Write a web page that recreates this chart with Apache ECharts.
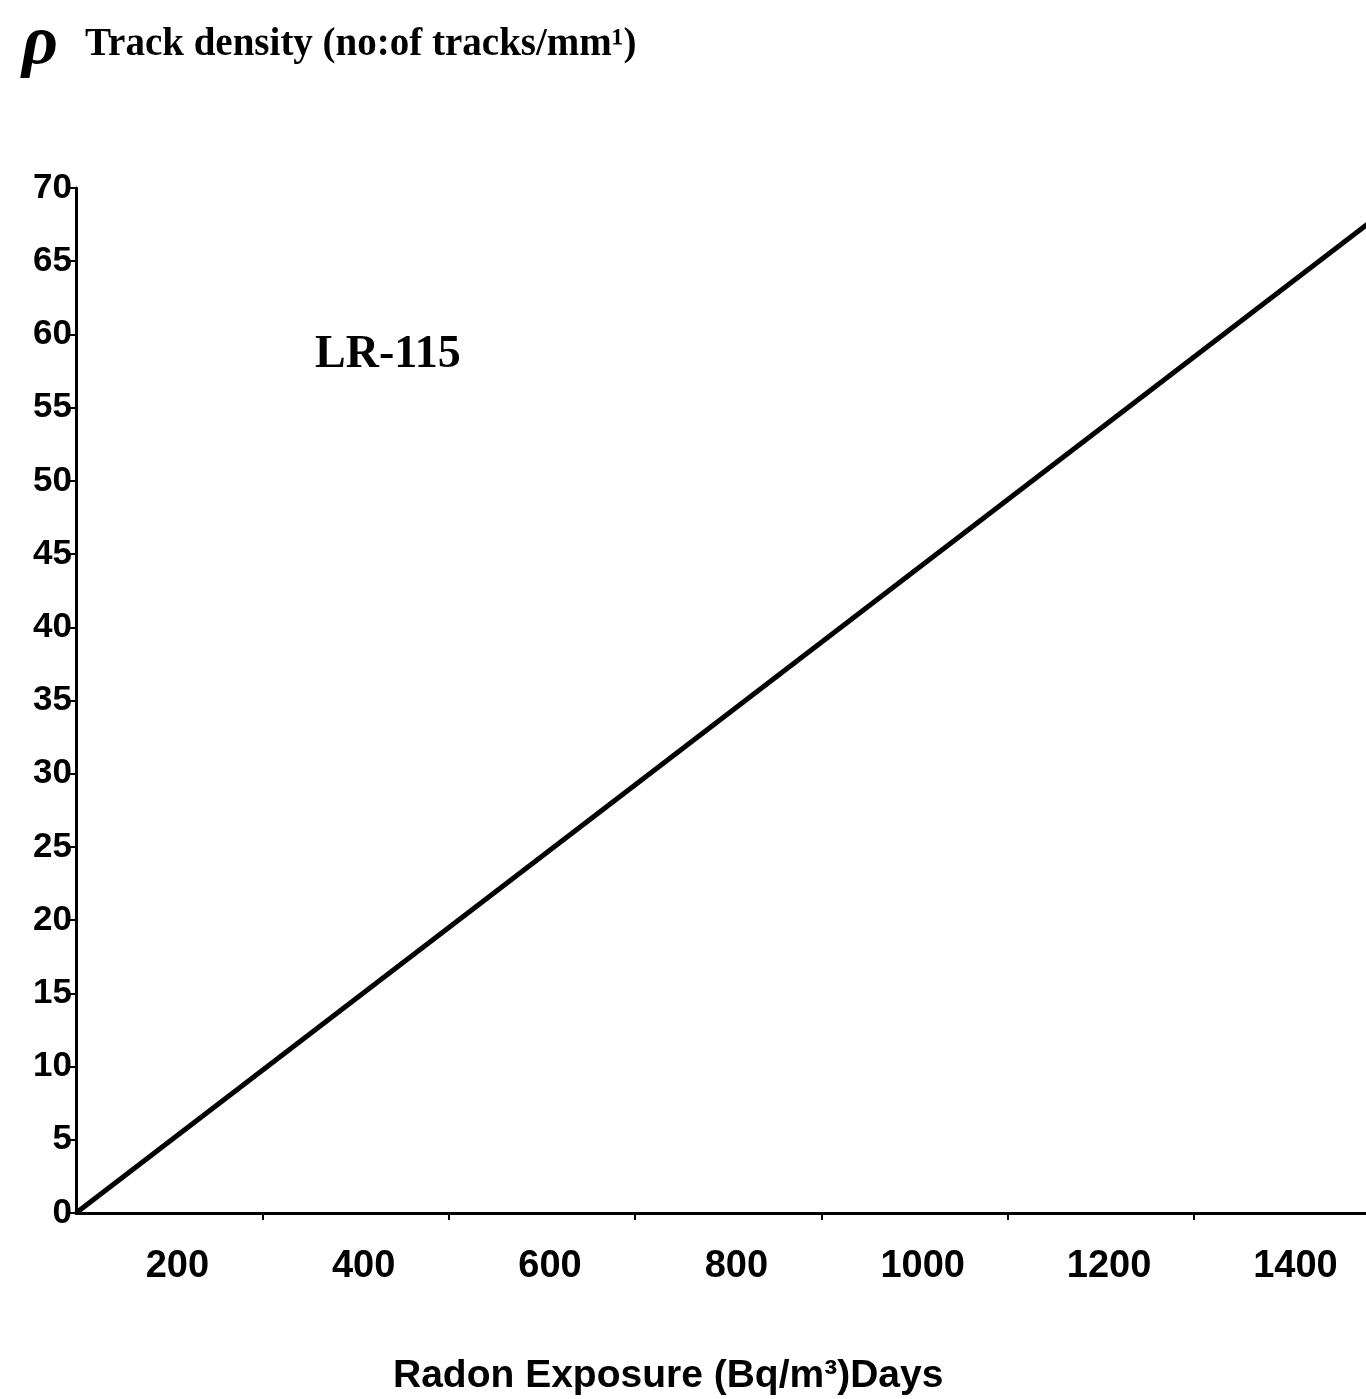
<!DOCTYPE html>
<html>
<head>
<meta charset="utf-8">
<script src="https://cdn.jsdelivr.net/npm/echarts@6/dist/echarts.min.js"></script>
<style>
  html, body { margin: 0; padding: 0; background: #fff; overflow: hidden; }
  /* the plot continues a little past the right edge of the window */
  #chart { width: 1430px; height: 1399px; }
</style>
</head>
<body>
<div id="chart"></div>
<script>
// Calibration line of LR-115 detector: track density vs radon exposure
const exposure = [0, 1400];            // Radon exposure (Bq/m³)·Days
const trackDensity = [0, 68.2];        // tracks per mm²
const xTickValues = [200, 400, 600, 800, 1000, 1200, 1400];
const yTickValues = [0, 5, 10, 15, 20, 25, 30, 35, 40, 45, 50, 55, 60, 65, 70];

const chart = echarts.init(document.getElementById('chart'), null, { renderer: 'canvas' });

const lineData = exposure.map((x, i) => [x, trackDensity[i]]);

chart.setOption({
  animation: false,
  backgroundColor: '#ffffff',
  grid: { left: 76, right: 3, top: 188, bottom: 186, containLabel: false },
  xAxis: {
    type: 'value',
    min: 0,
    max: 1450,
    interval: 200,
    axisLine: { show: true, onZero: false, lineStyle: { color: '#000', width: 3 } },
    axisTick: { show: true, length: 7, lineStyle: { color: '#000', width: 2 }, customValues: xTickValues },
    splitLine: { show: false },
    axisLabel: {
      customValues: xTickValues,
      formatter: v => String(v),
      margin: 35,
      padding: [0, 170, 0, 0],
      color: '#000',
      fontFamily: 'Liberation Sans',
      fontWeight: 'bold',
      fontSize: 38
    }
  },
  yAxis: {
    type: 'value',
    min: 0,
    max: 70,
    interval: 5,
    axisLine: { show: true, lineStyle: { color: '#000', width: 3 } },
    axisTick: { show: true, length: 6, lineStyle: { color: '#000', width: 2 }, customValues: yTickValues },
    splitLine: { show: false },
    axisLabel: {
      customValues: yTickValues,
      margin: 4,
      color: '#000',
      fontFamily: 'Liberation Sans',
      fontWeight: 'bold',
      fontSize: 35
    }
  },
  series: [{
    type: 'line',
    data: lineData,
    showSymbol: false,
    clip: true,
    lineStyle: { color: '#000', width: 5 }
  }],
  graphic: [
    {
      type: 'text',
      left: 22,
      top: 10,
      style: {
        text: 'ρ',
        font: 'italic bold 70px "Liberation Serif"',
        fill: '#000'
      }
    },
    {
      type: 'text',
      left: 85,
      top: 25,
      style: {
        text: 'Track density (no:of tracks/mm¹)',
        font: 'bold 39px "Liberation Serif"',
        fill: '#000'
      }
    },
    {
      type: 'text',
      left: 315,
      top: 332,
      style: {
        text: 'LR-115',
        font: 'bold 46px "Liberation Serif"',
        fill: '#000'
      }
    },
    {
      type: 'text',
      left: 393,
      top: 1357,
      style: {
        text: 'Radon Exposure (Bq/m³)Days',
        font: 'bold 39px "Liberation Sans"',
        fill: '#000'
      }
    }
  ]
});
</script>
</body>
</html>
